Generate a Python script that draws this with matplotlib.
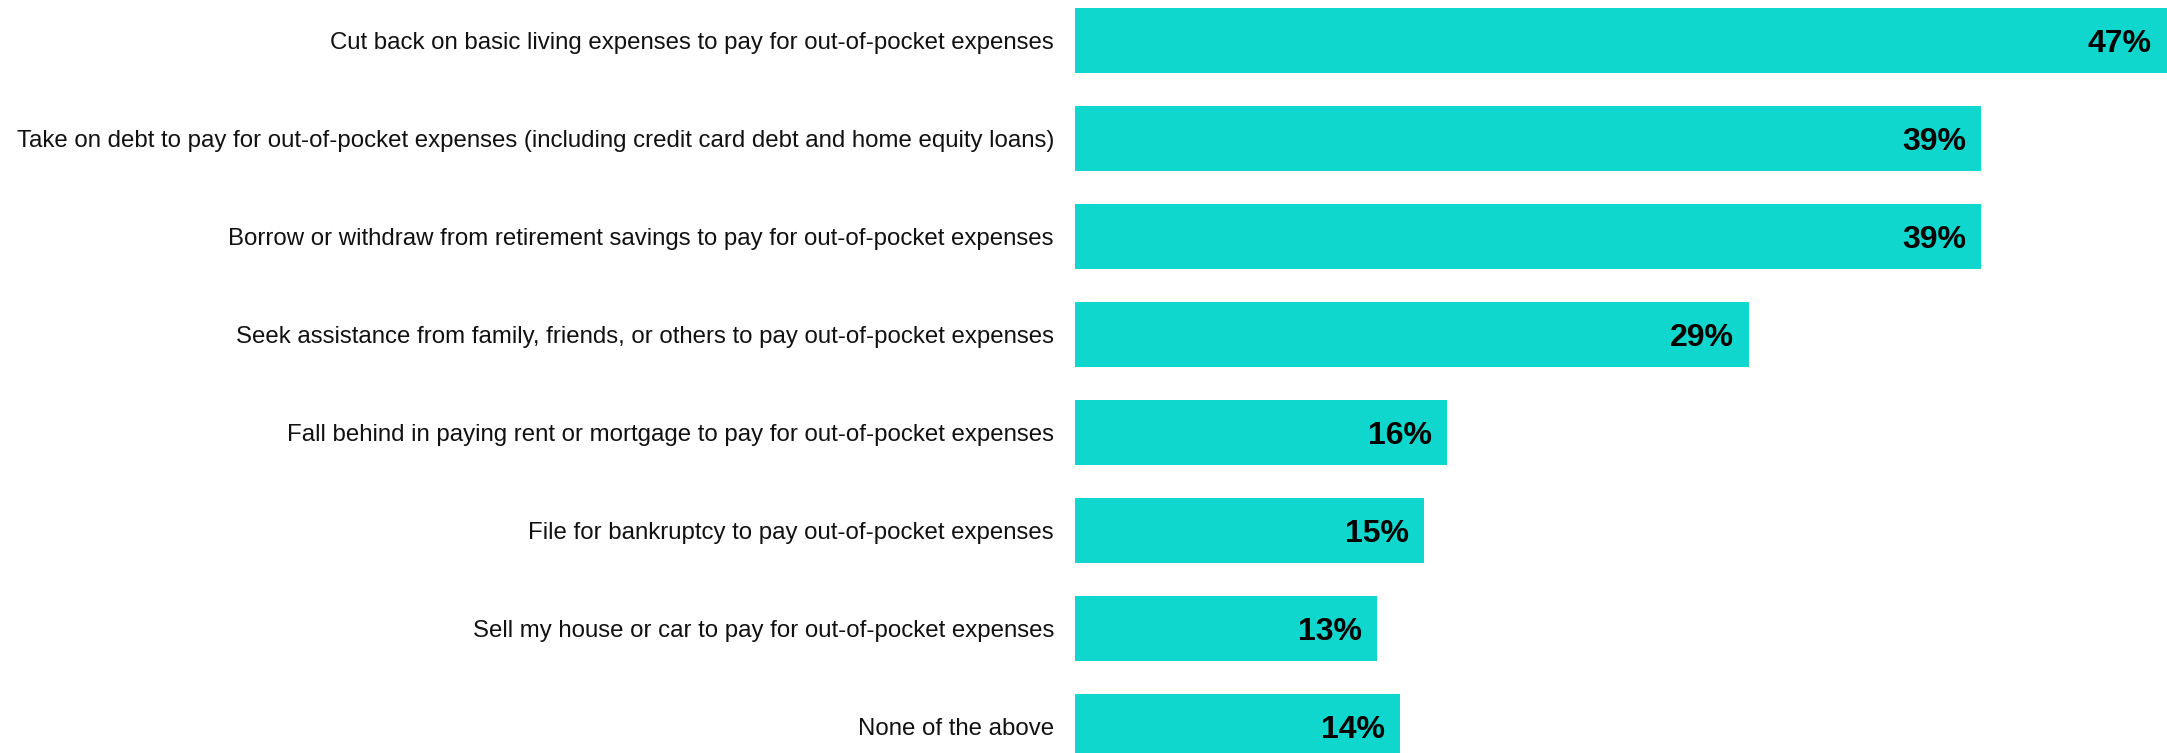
import matplotlib
matplotlib.use("Agg")
import matplotlib.pyplot as plt

# survey answers, top to bottom
categories = [
    "Cut back on basic living expenses to pay for out-of-pocket expenses",
    "Take on debt to pay for out-of-pocket expenses (including credit card debt and home equity loans)",
    "Borrow or withdraw from retirement savings to pay for out-of-pocket expenses",
    "Seek assistance from family, friends, or others to pay out-of-pocket expenses",
    "Fall behind in paying rent or mortgage to pay for out-of-pocket expenses",
    "File for bankruptcy to pay out-of-pocket expenses",
    "Sell my house or car to pay for out-of-pocket expenses",
    "None of the above",
]
values = [47, 39, 39, 29, 16, 15, 13, 14]

plt.rcParams['font.family'] = ['Liberation Sans', 'DejaVu Sans']

fig = plt.figure(figsize=(21.67, 7.53), dpi=100)
ax = fig.add_axes([1075 / 2167, 0, 1 - 1075 / 2167, 1])

ypos = list(range(len(categories)))
ax.barh(ypos, values, height=0.66, color='#0fd7cd')

ax.set_xlim(0, 47)
ax.set_ylim(7.27, -0.413)

# category labels to the left of the bars
for y, cat in zip(ypos, categories):
    ax.annotate(cat, xy=(0, y), xytext=(-21, 0), textcoords='offset pixels',
                ha='right', va='center_baseline', fontsize=17.3, color='#111111',
                annotation_clip=False)

# value labels inside the bar ends
for y, v in zip(ypos, values):
    ax.annotate(f"{v}%", xy=(v, y), xytext=(-15, 0), textcoords='offset pixels',
                ha='right', va='center_baseline', fontsize=23, fontweight='bold',
                color='black', annotation_clip=False)

ax.axis('off')
fig.savefig('out.png', dpi=100)
